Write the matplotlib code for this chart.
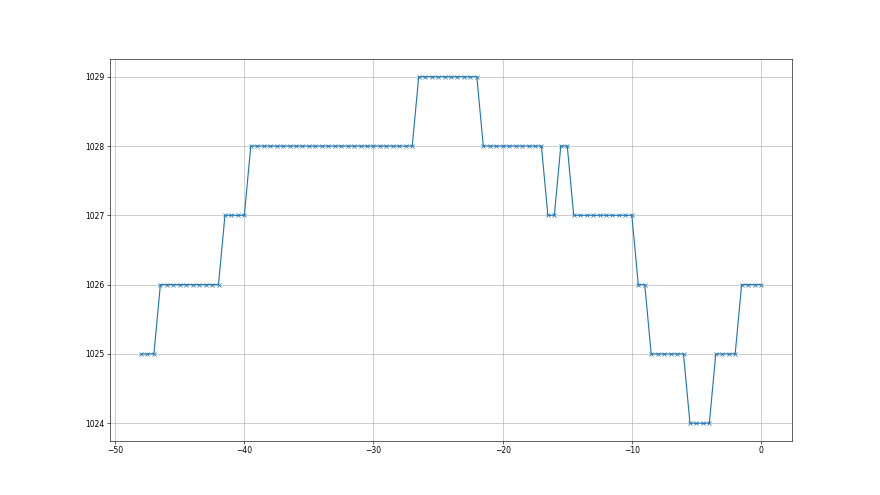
import matplotlib
matplotlib.use("Agg")
import matplotlib.pyplot as plt

# time offsets (half-step samples) and pressure readings
t = [-48.0, -47.5, -47.0, -46.5, -46.0, -45.5, -45.0, -44.5, -44.0, -43.5,
     -43.0, -42.5, -42.0, -41.5, -41.0, -40.5, -40.0, -39.5, -39.0, -38.5,
     -38.0, -37.5, -37.0, -36.5, -36.0, -35.5, -35.0, -34.5, -34.0, -33.5,
     -33.0, -32.5, -32.0, -31.5, -31.0, -30.5, -30.0, -29.5, -29.0, -28.5,
     -28.0, -27.5, -27.0, -26.5, -26.0, -25.5, -25.0, -24.5, -24.0, -23.5,
     -23.0, -22.5, -22.0, -21.5, -21.0, -20.5, -20.0, -19.5, -19.0, -18.5,
     -18.0, -17.5, -17.0, -16.5, -16.0, -15.5, -15.0, -14.5, -14.0, -13.5,
     -13.0, -12.5, -12.0, -11.5, -11.0, -10.5, -10.0, -9.5, -9.0, -8.5,
     -8.0, -7.5, -7.0, -6.5, -6.0, -5.5, -5.0, -4.5, -4.0, -3.5,
     -3.0, -2.5, -2.0, -1.5, -1.0, -0.5, 0.0]

p = [1025, 1025, 1025,
     1026, 1026, 1026, 1026, 1026, 1026, 1026, 1026, 1026, 1026,
     1027, 1027, 1027, 1027,
     1028, 1028, 1028, 1028, 1028, 1028, 1028, 1028, 1028, 1028, 1028, 1028, 1028,
     1028, 1028, 1028, 1028, 1028, 1028, 1028, 1028, 1028, 1028, 1028, 1028, 1028,
     1029, 1029, 1029, 1029, 1029, 1029, 1029, 1029, 1029, 1029,
     1028, 1028, 1028, 1028, 1028, 1028, 1028, 1028, 1028, 1028,
     1027, 1027,
     1028, 1028,
     1027, 1027, 1027, 1027, 1027, 1027, 1027, 1027, 1027, 1027,
     1026, 1026,
     1025, 1025, 1025, 1025, 1025, 1025,
     1024, 1024, 1024, 1024,
     1025, 1025, 1025, 1025,
     1026, 1026, 1026, 1026]

fig = plt.figure(figsize=(16, 9))
plt.plot(t, p, "x-")
plt.grid()
plt.savefig("out.png", dpi=55)
